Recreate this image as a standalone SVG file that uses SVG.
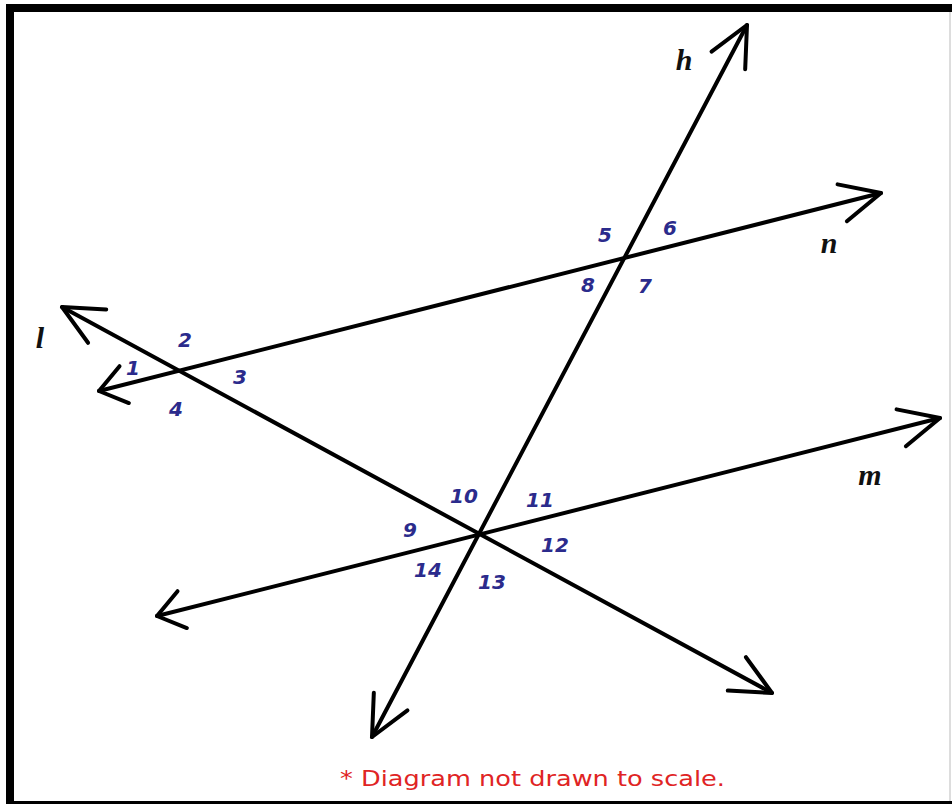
<svg xmlns="http://www.w3.org/2000/svg" width="952" height="804" viewBox="0 0 952 804">
<style>
.ln{stroke:#000;stroke-width:4;fill:none;stroke-linecap:round}
.num{font-family:"DejaVu Sans",sans-serif;font-size:20px;font-style:italic;font-weight:bold;fill:#2b2b8c;text-anchor:middle}
.var{font-family:"Liberation Serif",serif;font-size:30px;font-style:italic;font-weight:bold;fill:#111;text-anchor:middle}
.note{font-family:"DejaVu Sans",sans-serif;font-size:22px;fill:#e02424}
</style>
<defs>
<marker id="arr" markerUnits="userSpaceOnUse" markerWidth="60" markerHeight="60" refX="0" refY="0" viewBox="-50 -30 60 60" orient="auto-start-reverse">
<path d="M -40 -19 L 0 0 L -40 19" fill="none" stroke="#000" stroke-width="4" stroke-linecap="round" stroke-linejoin="round"/>
</marker>
<marker id="arrS" markerUnits="userSpaceOnUse" markerWidth="60" markerHeight="60" refX="0" refY="0" viewBox="-50 -30 60 60" orient="auto-start-reverse">
<path d="M -26 -19 L 0 0 L -26 19" fill="none" stroke="#000" stroke-width="4" stroke-linecap="round" stroke-linejoin="round"/>
</marker>
</defs>
<rect x="0" y="0" width="952" height="804" fill="#fff"/>
<rect x="10" y="8" width="970" height="797" fill="none" stroke="#000" stroke-width="8"/>
<line x1="950" y1="12" x2="950" y2="801" stroke="#bbb" stroke-width="1"/>
<g id="connectors">
<line id="line-l" class="ln" x1="772" y1="693" x2="62" y2="307" marker-start="url(#arr)" marker-end="url(#arr)"/>
<line id="line-n" class="ln" x1="99" y1="391" x2="881" y2="193" marker-start="url(#arrS)" marker-end="url(#arr)"/>
<line id="line-m" class="ln" x1="157" y1="616" x2="940" y2="418" marker-start="url(#arrS)" marker-end="url(#arr)"/>
<line id="line-h" class="ln" x1="372" y1="737" x2="747" y2="25" marker-start="url(#arr)" marker-end="url(#arr)"/>
</g>
<g id="labels-lines">
<text class="var" x="40" y="348">l</text>
<text class="var" x="684" y="70">h</text>
<text class="var" x="829" y="253">n</text>
<text class="var" x="870" y="485">m</text>
</g>
<g id="angles">
<text class="num" x="133" y="375">1</text>
<text class="num" x="185" y="347">2</text>
<text class="num" x="240" y="384">3</text>
<text class="num" x="176" y="416">4</text>
<text class="num" x="605" y="242">5</text>
<text class="num" x="670" y="235">6</text>
<text class="num" x="645" y="293">7</text>
<text class="num" x="588" y="292">8</text>
<text class="num" x="410" y="537">9</text>
<text class="num" x="464" y="503">10</text>
<text class="num" x="540" y="507">11</text>
<text class="num" x="555" y="552">12</text>
<text class="num" x="492" y="589">13</text>
<text class="num" x="428" y="577">14</text>
</g>
<text class="note" x="340" y="786" textLength="385" lengthAdjust="spacingAndGlyphs">* Diagram not drawn to scale.</text>
</svg>
